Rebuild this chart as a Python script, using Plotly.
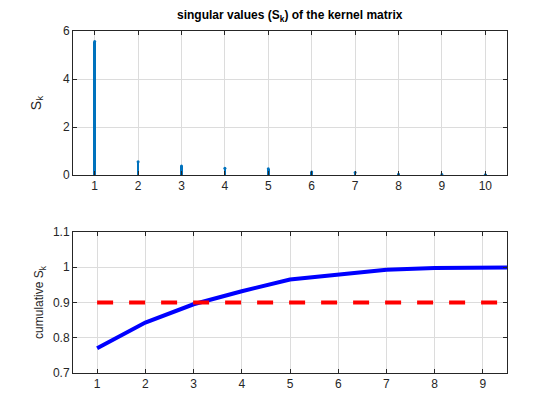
import plotly.graph_objects as go

# singular values of the kernel matrix
k = [1, 2, 3, 4, 5, 6, 7, 8, 9, 10]
s_k = [5.56, 0.55, 0.38, 0.28, 0.26, 0.12, 0.10, 0.03, 0.02, 0.01]
cum_s_k = [0.770, 0.843, 0.895, 0.932, 0.965, 0.980, 0.993, 0.998, 1.000, 1.000]
threshold = 0.9

top_ticks = [1, 2, 3, 4, 5, 6, 7, 8, 9, 10]
bottom_ticks = [1, 2, 3, 4, 5, 6, 7, 8, 9]

# the page body has an 8px margin, so the figure is a bit smaller and
# reference pixel positions are shifted by OFF
OFF = 8
W, H = 560 - OFF, 420 - OFF
ink = "#262626"
stem_blue = "#0072BD"
font = "Liberation Sans, Arial, Helvetica, sans-serif"


def px_x(a, b):
    return [(a - OFF) / W, (b - OFF) / W]


def px_y(top, bottom):
    return [1 - (bottom - OFF) / H, 1 - (top - OFF) / H]


fig = go.Figure()

# stems (top panel)
fig.add_trace(go.Bar(
    x=k, y=s_k, width=0.06, marker=dict(color=stem_blue, line=dict(width=0)),
    xaxis="x", yaxis="y", showlegend=False, hoverinfo="x+y",
))
fig.add_trace(go.Scatter(
    x=k, y=s_k, mode="markers", marker=dict(color=stem_blue, size=3),
    xaxis="x", yaxis="y", showlegend=False,
))

# cumulative curve + threshold (bottom panel)
fig.add_trace(go.Scatter(
    x=k, y=cum_s_k, mode="lines", line=dict(color="#0000FF", width=4),
    xaxis="x2", yaxis="y2", showlegend=False, cliponaxis=True,
))
fig.add_trace(go.Scatter(
    x=[k[0], k[-1]], y=[threshold, threshold], mode="lines",
    line=dict(color="#FF0000", width=4, dash="16px,16px"),
    xaxis="x2", yaxis="y2", showlegend=False,
))

axis_common = dict(
    showline=True, linecolor=ink, linewidth=1, mirror="allticks",
    ticks="inside", ticklen=4, tickcolor=ink, automargin=False,
    showgrid=True, gridcolor="#DCDCDC", gridwidth=1,
    zeroline=False, tickfont=dict(family=font, size=12, color=ink),
)

fig.update_layout(
    width=W, height=H,
    margin=dict(l=0, r=0, t=0, b=0, autoexpand=False),
    paper_bgcolor="white", plot_bgcolor="white",
    bargap=0,
    xaxis=dict(axis_common, domain=px_x(73, 507), range=[0.5, 10.5],
               tickvals=top_ticks, anchor="y"),
    yaxis=dict(axis_common, domain=px_y(31, 175), range=[0, 6],
               tickvals=[0, 2, 4, 6], anchor="x",
               title=dict(text="S<sub>k</sub>", standoff=18,
                          font=dict(family=font, size=14, color=ink))),
    xaxis2=dict(axis_common, domain=px_x(73, 507), range=[0.5, 9.5],
                tickvals=bottom_ticks, anchor="y2"),
    yaxis2=dict(axis_common, domain=px_y(232, 373), range=[0.7, 1.1],
                tickvals=[0.7, 0.8, 0.9, 1.0, 1.1],
                ticktext=["0.7", "0.8", "0.9", "1", "1.1"], anchor="x2",
                title=dict(text="cumulative S<sub>k</sub>", standoff=6,
                           font=dict(family=font, size=12, color=ink))),
    annotations=[dict(
        text="<b>singular values (S<sub>k</sub>) of the kernel matrix</b>",
        x=(290 - OFF) / W, y=1 - (16 - OFF) / H, xref="paper", yref="paper",
        xanchor="center", yanchor="middle", showarrow=False,
        font=dict(family=font, size=12, color="black"),
    )],
)

fig.write_html("out.html")
